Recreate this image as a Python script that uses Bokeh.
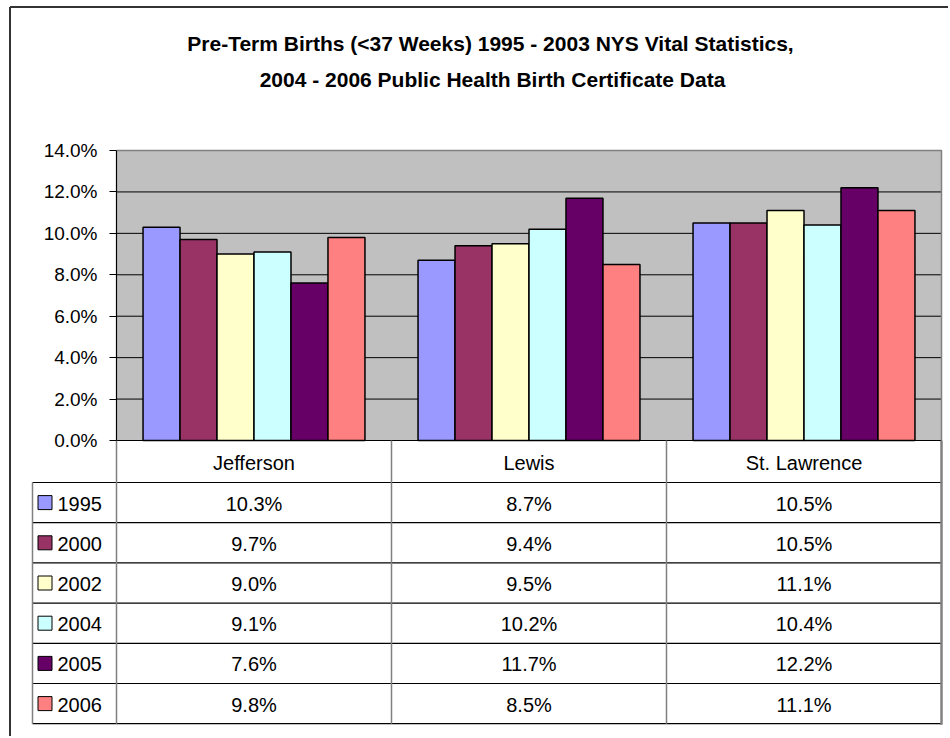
from bokeh.plotting import figure
from bokeh.models import Range1d, NumeralTickFormatter, FixedTicker, LinearAxis
from bokeh.embed import file_html
from bokeh.resources import INLINE
from bokeh.core.properties import value

# ---------------- data ----------------
title_lines = ["Pre-Term Births (<37 Weeks) 1995 - 2003 NYS Vital Statistics,",
               "2004 - 2006 Public Health Birth Certificate Data"]
counties = ["Jefferson", "Lewis", "St. Lawrence"]
years = ["1995", "2000", "2002", "2004", "2005", "2006"]
rate_1995 = [0.103, 0.087, 0.105]
rate_2000 = [0.097, 0.094, 0.105]
rate_2002 = [0.090, 0.095, 0.111]
rate_2004 = [0.091, 0.102, 0.104]
rate_2005 = [0.076, 0.117, 0.122]
rate_2006 = [0.098, 0.085, 0.111]
series = [rate_1995, rate_2000, rate_2002, rate_2004, rate_2005, rate_2006]
colors = ["#9999FF", "#993366", "#FFFFCC", "#CCFFFF", "#660066", "#FF8080"]
y_ticks = [0.0, 0.02, 0.04, 0.06, 0.08, 0.10, 0.12, 0.14]
y_max = 0.14

# ---------------- layout (page pixels) ----------------
FONT = "Liberation Sans"
W, H = 948, 736
PA_L, PA_R = 116, 941       # plot area left/right
PA_T, PA_B = 150, 440       # plot area top/bottom
UNIT = (PA_R - PA_L) / len(counties)
KY = y_max / (PA_B - PA_T)  # value per pixel
BAR_W = 0.1345
GROUP_OFF = 0.0965


def X(px):
    return (px - PA_L) / UNIT


def Y(py):
    return (PA_B - py) * KY


p = figure(width=W, height=H, x_range=Range1d(X(0), X(W)), y_range=Range1d(Y(H), Y(0)),
           output_backend="svg", toolbar_location=None, min_border=0,
           min_border_left=0, min_border_right=0, min_border_top=0, min_border_bottom=0,
           x_axis_type=None, y_axis_type=None)
p.outline_line_color = None
p.grid.visible = False
p.background_fill_color = "white"

ncat = len(counties)

# outer chart border (left and top)
p.line(x=[X(9.5), X(9.5)], y=[Y(6.5), Y(H)], line_color="#333333", line_width=2)
p.line(x=[X(9.5), X(W)], y=[Y(6.5), Y(6.5)], line_color="#333333", line_width=2)

# title
p.text(x=[X(490), X(492)], y=[Y(43), Y(79)], text=title_lines,
       text_font=value(FONT), text_font_style="bold", text_font_size="21px",
       text_align="center", text_baseline="middle", text_color="black")

# plot area
p.quad(left=[0], right=[ncat], bottom=[0], top=[y_max], fill_color="#C0C0C0", line_color=None)
grid_vals = [t for t in y_ticks if 0 < t < y_max]
p.multi_line(xs=[[0, ncat]] * len(grid_vals), ys=[[g, g] for g in grid_vals],
             line_color="black", line_width=1)
p.line(x=[0, ncat, ncat], y=[y_max, y_max, 0], line_color="#808080", line_width=1.5)

# bars
for k, (s, col) in enumerate(zip(series, colors)):
    xs = [i + GROUP_OFF + (k + 0.5) * BAR_W for i in range(ncat)]
    p.vbar(x=xs, top=s, bottom=0, width=BAR_W, fill_color=col,
           line_color="black", line_width=1.5)

# x axis line
p.line(x=[0, ncat], y=[0, 0], line_color="black", line_width=1.2)

# y axis (native)
yax = LinearAxis(fixed_location=0, bounds=(0, y_max), ticker=FixedTicker(ticks=y_ticks),
                 formatter=NumeralTickFormatter(format="0.0%"))
yax.major_label_text_font = FONT
yax.major_label_text_font_size = "19px"
yax.major_label_text_color = "black"
yax.major_tick_out = 7
yax.major_tick_in = 0
yax.minor_tick_out = 0
yax.minor_tick_in = 0
yax.major_label_standoff = 12
yax.axis_line_color = "black"
yax.axis_line_width = 1.2
yax.major_tick_line_color = "black"
p.add_layout(yax, "left")

# ---------------- data table ----------------
HEAD_B = 482
ROW = 40.2
n = len(years)
row_lines = [HEAD_B + ROW * k for k in range(n + 1)]
TBL_L = 32

p.multi_line(xs=[[X(TBL_L), ncat]] * len(row_lines), ys=[[Y(r), Y(r)] for r in row_lines],
             line_color="black", line_width=1.2)
p.multi_line(xs=[[i, i] for i in range(ncat)], ys=[[Y(PA_B), Y(row_lines[-1])]] * ncat,
             line_color="#808080", line_width=1.5)
p.line(x=[ncat, ncat], y=[Y(PA_B), Y(row_lines[-1] + 1)], line_color="#808080", line_width=2.5)
p.line(x=[X(TBL_L), X(TBL_L)], y=[Y(HEAD_B), Y(row_lines[-1])], line_color="#808080",
       line_width=1.5)

# header labels (categories)
p.text(x=[i + 0.5 for i in range(ncat)], y=[Y((PA_B + HEAD_B) / 2 + 1)] * ncat, text=counties,
       text_font=value(FONT), text_font_size="20px", text_align="center",
       text_baseline="middle", text_color="black")

# cell values
cx, cy, ct = [], [], []
for k, s in enumerate(series):
    for i, v in enumerate(s):
        cx.append(i + 0.5)
        cy.append(Y(HEAD_B + ROW * (k + 0.5) + 1))
        ct.append(f"{v * 100:.1f}%")
p.text(x=cx, y=cy, text=ct, text_font=value(FONT), text_font_size="20px",
       text_align="center", text_baseline="middle", text_color="black")

# legend keys
ky = [Y(HEAD_B + ROW * (k + 0.5)) for k in range(n)]
p.scatter(x=[X(44.5)] * n, y=ky, marker="square", size=14,
          fill_color=colors, line_color="black", line_width=1)
p.text(x=[X(57)] * n, y=[Y(HEAD_B + ROW * (k + 0.5) + 1) for k in range(n)], text=years,
       text_font=value(FONT), text_font_size="20px", text_align="left",
       text_baseline="middle", text_color="black")

open("out.html", "w").write(file_html(p, INLINE))
